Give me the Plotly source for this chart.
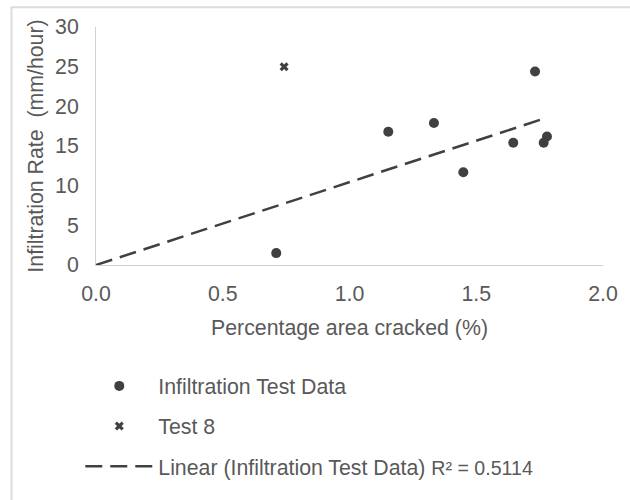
import numpy as np
import plotly.graph_objects as go

# ---- data ----
crack_pct = [0.711, 1.153, 1.333, 1.449, 1.646, 1.732, 1.766, 1.779]
infil_rate = [1.5, 16.8, 17.9, 11.7, 15.4, 24.4, 15.4, 16.2]
test8_x = [0.742]
test8_y = [25.0]
r2_label = "R² = 0.5114"
x_ticks = [0.0, 0.5, 1.0, 1.5, 2.0]
y_ticks = [0, 5, 10, 15, 20, 25, 30]

# linear trend forced through origin (Excel "set intercept = 0")
xa = np.array(crack_pct)
ya = np.array(infil_rate)
slope = float((xa * ya).sum() / (xa * xa).sum())
trend_x = [0.0, float(xa.max())]
trend_y = [slope * v for v in trend_x]

FONT = "Liberation Sans, Arial, sans-serif"
TXT = "#595959"
MARK = "#404040"
FS = 21.3

fig = go.Figure()
fig.add_trace(go.Scatter(
    x=crack_pct, y=infil_rate, mode="markers", name="Infiltration Test Data",
    marker=dict(symbol="circle", size=10, color=MARK), legendgroup="a"))
fig.add_trace(go.Scatter(
    x=test8_x, y=test8_y, mode="markers", name="Test 8",
    marker=dict(symbol="x", size=8, color=MARK), legendgroup="b"))
fig.add_trace(go.Scatter(
    x=trend_x, y=trend_y, mode="lines",
    name="Linear (Infiltration Test Data) <span style=\"font-size:19.6px\">" + r2_label + "</span>",
    line=dict(color=MARK, width=2.5, dash="17px,8px"), legendgroup="c"))

fig.add_shape(type="rect", xref="paper", yref="paper",
              x0=-0.1667, x1=1.2, y0=-1.2, y1=1.0826,
              line=dict(color="#DCDCDC", width=2), fillcolor="rgba(0,0,0,0)", layer="below")

fig.update_layout(
    width=630, height=500, autosize=False,
    margin=dict(l=96, r=18, t=27, b=231),
    paper_bgcolor="white", plot_bgcolor="white",
    font=dict(family=FONT, color=TXT, size=FS),
    showlegend=True,
    legend=dict(x=-0.031, y=-0.4224, xanchor="left", yanchor="top",
                font=dict(size=FS, color=TXT), itemwidth=68,
                tracegroupgap=9.5, bgcolor="rgba(0,0,0,0)"),
    xaxis=dict(range=[0, 2], tickvals=x_ticks, ticktext=[f"{v:.1f}" for v in x_ticks],
               showgrid=False, zeroline=False, showline=True, linecolor="#D0D0D0", linewidth=1,
               ticks="", tickfont=dict(size=FS, color=TXT), ticklabelstandoff=9,
               title=dict(text="Percentage area cracked (%)", font=dict(size=FS, color=TXT), standoff=15)),
    yaxis=dict(range=[0, 30], tickvals=y_ticks,
               showgrid=False, zeroline=False, showline=True, linecolor="#D0D0D0", linewidth=1,
               ticks="", tickfont=dict(size=FS, color=TXT), ticklabelstandoff=12,
               title=dict(text="Infiltration Rate  (mm/hour)", font=dict(size=FS, color=TXT), standoff=5)),
)

fig.write_html("out.html")
